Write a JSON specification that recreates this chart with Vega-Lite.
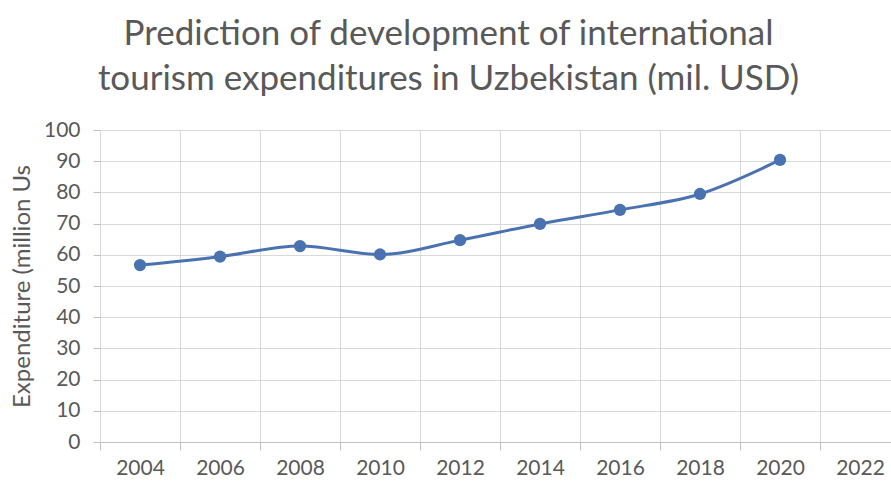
{
  "$schema": "https://vega.github.io/schema/vega-lite/v6.json",
  "width": 791,
  "height": 312,
  "autosize": {"type": "none"},
  "padding": {"left": 100, "top": 130, "right": 0, "bottom": 42},
  "background": "white",
  "config": {"view": {"stroke": null}, "font": "Lato"},
  "title": {
    "text": ["Prediction of development of international", "tourism expenditures in Uzbekistan (mil. USD)"],
    "font": "Lato",
    "fontSize": 35,
    "fontWeight": "normal",
    "color": "#595959",
    "anchor": "middle",
    "frame": "group",
    "dx": -47,
    "offset": 22,
    "lineHeight": 45
  },
  "data": {
    "values": [
      {"year": "2004", "value": 56.7},
      {"year": "2006", "value": 59.4},
      {"year": "2008", "value": 62.8},
      {"year": "2010", "value": 60.1},
      {"year": "2012", "value": 64.7},
      {"year": "2014", "value": 69.9},
      {"year": "2016", "value": 74.4},
      {"year": "2018", "value": 79.5},
      {"year": "2020", "value": 90.4}
    ]
  },
  "encoding": {
    "x": {
      "field": "year",
      "type": "ordinal",
      "bandPosition": 0.5,
      "scale": {"type": "band", "domain": ["2004","2006","2008","2010","2012","2014","2016","2018","2020","2022"], "range": [0, 800], "paddingInner": 0, "paddingOuter": 0},
      "axis": {
        "title": null,
        "labelAngle": 0,
        "tickBand": "extent",
        "grid": true,
        "gridColor": "#d9d9d9",
        "gridWidth": 1,
        "domainColor": "#bfbfbf",
        "tickColor": "#bfbfbf",
        "tickSize": 8,
        "labelFont": "Lato",
        "labelFontSize": 21,
        "labelColor": "#595959",
        "labelPadding": 7
      }
    },
    "y": {
      "field": "value",
      "type": "quantitative",
      "scale": {"domain": [0, 100], "nice": false},
      "axis": {
        "title": "Expenditure (million Us",
        "titleFont": "Lato",
        "titleFontSize": 24,
        "titleFontWeight": "normal",
        "titleColor": "#595959",
        "titlePadding": 9,
        "values": [0,10,20,30,40,50,60,70,80,90,100],
        "grid": true,
        "gridColor": "#d9d9d9",
        "domain": false,
        "tickColor": "#bfbfbf",
        "tickSize": 7,
        "labelFont": "Lato",
        "labelFontSize": 21,
        "labelColor": "#595959",
        "labelPadding": 13
      }
    }
  },
  "layer": [
    {"mark": {"type": "line", "interpolate": "monotone", "color": "#4A72B0", "strokeWidth": 3}},
    {"mark": {"type": "point", "filled": true, "opacity": 1, "color": "#4A72B0", "size": 150}}
  ]
}
